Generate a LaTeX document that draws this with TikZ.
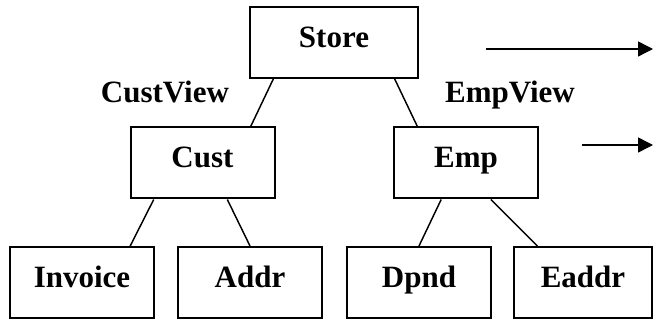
\documentclass[tikz,border=0pt]{standalone}
\usepackage{fontspec}
\setmainfont{Liberation Serif}
\usetikzlibrary{calc,arrows.meta}
\tikzset{
	box/.style={draw, line width=1.5pt, minimum height=53.25pt, text height=10pt, text depth=2.5pt, font=\bfseries\fontsize{23.25}{26}\selectfont},
	viewlabel/.style={anchor=base, font=\bfseries\fontsize{23.25}{26}\selectfont},
	link/.style={line width=1.1pt},
	pointer/.style={line width=1.1pt, -{Triangle[length=11.25pt, width=11.25pt]}}
}

\begin{document}
\begin{tikzpicture}[x=0.75pt, y=-0.75pt]
		%%%%% START %%%%%
		\useasboundingbox (0, 0) rectangle (654, 320);
		
		\node[box, minimum width=126pt] (store) at (334, 42.5) {Store};
		
		\node[box, minimum width=108pt] (cust) at (202.5, 163) {Cust};
		\node[box, minimum width=108pt] (emp) at (466, 163) {Emp};
		
		\node[box, minimum width=108pt] (invoice) at (82, 282.5) {Invoice};
		\node[box, minimum width=108pt] (addr) at (250, 282.5) {Addr};
		\node[box, minimum width=108pt] (dpnd) at (419, 282.5) {Dpnd};
		\node[box, minimum width=103.5pt] (eaddr) at (583, 282.5) {Eaddr};
		
		\node[viewlabel] (custview) at (165, 103) {CustView};
		\node[viewlabel] (empview) at (510, 103) {EmpView};
		
		% links between levels
		\draw[link] ($(store.south west)!0.143!(store.south east)$) -- ($(cust.north west)!0.83!(cust.north east)$);
		\draw[link] ($(store.south west)!0.857!(store.south east)$) -- ($(emp.north west)!0.167!(emp.north east)$);
		
		\draw[link] ($(cust.south west)!0.166!(cust.south east)$) -- ($(invoice.north west)!0.83!(invoice.north east)$);
		\draw[link] ($(cust.south west)!0.67!(cust.south east)$) -- (addr.north);
		
		\draw[link] ($(emp.south west)!0.33!(emp.south east)$) -- (dpnd.north);
		\draw[link] ($(emp.south west)!0.67!(emp.south east)$) -- ($(eaddr.north west)!0.174!(eaddr.north east)$);
		
		% arrows at the right
		\coordinate (top from) at (486, 49);
		\coordinate (top to) at (653, 49);
		\coordinate (mid from) at (582, 145);
		\coordinate (mid to) at (653, 145);
		\draw[pointer] (top from) -- (top to);
		\draw[pointer] (mid from) -- (mid to);
		
		%%%%% END %%%%%
\end{tikzpicture}
\end{document}
